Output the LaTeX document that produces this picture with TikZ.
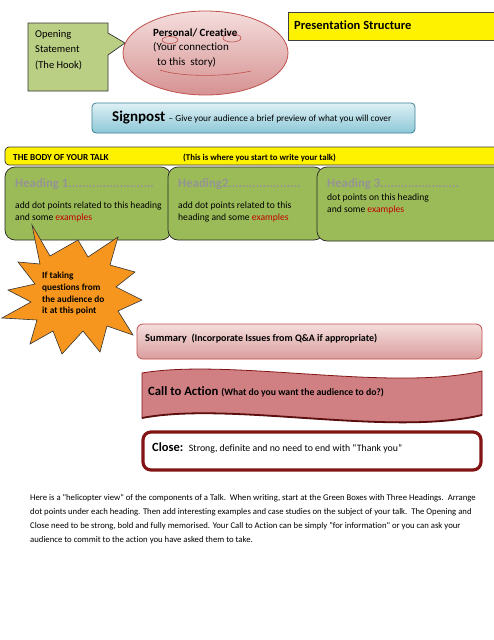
\documentclass[tikz,border=0pt]{standalone}
\usepackage{fontspec}
\setmainfont{Carlito}[Ligatures={TeXOff,NoCommon}]
\usetikzlibrary{shapes.geometric}
\definecolor{hookgreen}{RGB}{186,206,132}
\definecolor{headgreen}{RGB}{155,187,89}
\definecolor{pinklight}{RGB}{244,222,221}
\definecolor{pinkdark}{RGB}{214,146,146}
\definecolor{pinkborder}{RGB}{192,80,77}
\definecolor{bluelight}{RGB}{222,240,245}
\definecolor{bluedark}{RGB}{140,200,215}
\definecolor{blueborder}{RGB}{60,130,150}
\definecolor{orangestar}{RGB}{247,150,30}
\definecolor{wavefill}{RGB}{208,128,131}
\definecolor{darkred}{RGB}{130,20,20}
\definecolor{exred}{RGB}{192,0,0}
\definecolor{headgrey}{RGB}{148,148,148}
\newcommand{\fsz}[2]{\fontsize{#1}{#2}\selectfont}
\tikzset{
  txt/.style={inner sep=0pt, anchor=base west},
  greenbox/.style={draw=black!85, fill=headgreen, rounded corners=10pt, line width=0.7pt},
  ex/.style={text=exred}
}
\begin{document}
\begin{tikzpicture}[x=1pt,y=-1pt]
\useasboundingbox (0,0) rectangle (494,640);
\clip (0,0) rectangle (494,640);
\fill[white] (0,0) rectangle (494,640);

% Opening statement callout
\draw[fill=hookgreen, draw=black!80, line width=0.7pt]
  (28,23) -- (108,23) -- (108,33) -- (125,43) -- (108,55) -- (108,91) -- (28,91) -- cycle;
\node[txt] (op1) at (35,37) {\fsz{10.5}{12}Opening};
\node[txt] (op2) at (35,52.5) {\fsz{10.5}{12}Statement};
\node[txt] (op3) at (35,68) {\fsz{10.5}{12}(The Hook)};

% Personal/Creative ellipse
\draw[top color=pinklight, bottom color=pinkdark, draw=pinkborder, line width=0.8pt]
  (205.5,53) ellipse [x radius=82.5pt, y radius=42pt];
\draw[pinkborder, line width=0.6pt] (170,40) ellipse [x radius=8pt, y radius=3.5pt];
\draw[pinkborder, line width=0.6pt] (232,38) ellipse [x radius=9pt, y radius=4pt];
\draw[pinkborder, line width=0.6pt] (160,70) .. controls (180,77) and (225,77) .. (251,71);
\node[txt] (pc1) at (153,36) {\fsz{11}{13}\bfseries Personal/ Creative};
\node[txt] (pc2) at (153,50.5) {\fsz{11}{13}(Your connection};
\node[txt] (pc3) at (157,65) {\fsz{11}{13}to this\ \ story)};

% Presentation Structure
\draw[fill=yellow, draw=black!75, line width=0.7pt] (288,12) rectangle (500,40);
\node[txt] (ps) at (294,29.5) {\fsz{12.5}{14}\bfseries Presentation Structure};

% Signpost
\draw[top color=bluelight, bottom color=bluedark, draw=blueborder, line width=0.8pt, rounded corners=4pt]
  (92,103) rectangle (415,133);
\node[txt] (sp) at (112,121) {\fsz{15}{16}\bfseries Signpost\ \fsz{9.3}{11}\mdseries – Give your audience a brief preview of what you will cover};

% Body bar
\draw[fill=yellow, draw=black!80, line width=0.7pt, rounded corners=4pt] (5,147) rectangle (505,165);
\node[txt] (bd1) at (13,160) {\fsz{9.2}{10}\bfseries THE BODY OF YOUR TALK};
\node[txt] (bd2) at (183,160) {\fsz{8.8}{10}\bfseries (This is where you start to write your talk)};

% Green heading boxes
\draw[greenbox] (5,167) rectangle (171,240);
\draw[greenbox] (168,167) rectangle (324,240);
\draw[greenbox] (317,167) rectangle (510,241);
\node[txt, text=headgrey] (h1) at (15,187) {\fsz{12.8}{14}\bfseries Heading 1.........................};
\node[txt] (h1a) at (15,208) {\fsz{9.6}{11}add dot points related to this heading};
\node[txt] (h1b) at (15,220) {\fsz{9.6}{11}and some {\color{exred}examples}};
\node[txt, text=headgrey] (h2) at (178,187) {\fsz{12.8}{14}\bfseries Heading2.....................};
\node[txt] (h2a) at (178,208) {\fsz{9.6}{11}add dot points related to this};
\node[txt] (h2b) at (178,220) {\fsz{9.6}{11}heading and some {\color{exred}examples}};
\node[txt, text=headgrey] (h3) at (327,187) {\fsz{12.8}{14}\bfseries Heading 3.......................};
\node[txt] (h3a) at (327,200.5) {\fsz{9.6}{11}dot points on this heading};
\node[txt] (h3b) at (327,212) {\fsz{9.6}{11}and some {\color{exred}examples}};

% Starburst
\draw[fill=orangestar, draw=black!80, line width=0.6pt]
  (32,225) -- (50,256) -- (78,240) -- (88,257) -- (118,237) -- (110,265)
  -- (135,272) -- (116,287) -- (142,300) -- (118,311) -- (133,335) -- (107,326)
  -- (100,352) -- (83,331) -- (62,354) -- (53,331) -- (30,344) -- (37,320)
  -- (2,318) -- (31,302) -- (8,290) -- (35,284) -- (18,262) -- (40,264) -- cycle;
\node[txt] (st1) at (42,278) {\fsz{9.3}{10}\bfseries If taking};
\node[txt] (st2) at (42,290) {\fsz{9.3}{10}\bfseries questions from};
\node[txt] (st3) at (42,302) {\fsz{9.3}{10}\bfseries the audience do};
\node[txt] (st4) at (42,313.5) {\fsz{9.3}{10}\bfseries it at this point};

% Summary
\draw[top color=pinklight, bottom color=pinkdark!90, draw=pinkborder, line width=0.8pt, rounded corners=6pt]
  (137,324) rectangle (482,359);
\node[txt] (sm) at (145,341) {\fsz{10.5}{12}\bfseries Summary\ \ \fsz{10}{11}(Incorporate Issues from Q\&A if appropriate)};

% Call to Action wave
\draw[fill=wavefill, draw=darkred, line width=0.8pt]
  (142,373) .. controls (230,358) and (390,392) .. (482,371)
  -- (482,415) .. controls (390,437) and (230,401) .. (142,418) -- cycle;
\draw[darkred!70!black, line width=1.8pt] (482,415) .. controls (390,437) and (230,401) .. (142,418);
\node[txt] (ca) at (148,395) {\fsz{12.7}{14}\bfseries Call to Action\ \fsz{9.7}{11}(What do you want the audience to do?)};

% Close
\draw[fill=white, draw=darkred, line width=3.2pt, rounded corners=8pt] (143,432) rectangle (481,470);
\node[txt] (cl) at (152,451) {\fsz{12.5}{14}\bfseries Close:\ \ \fsz{9.8}{11}\mdseries Strong, definite and no need to end with “Thank you”};

% Paragraph
\node[txt] (p1) at (30,500) {\fsz{8.7}{10}Here is a "helicopter view" of the components of a Talk.\ \ When writing, start at the Green Boxes with Three Headings.\ \ Arrange};
\node[txt] (p2) at (30,514) {\fsz{8.7}{10}dot points under each heading. Then add interesting examples and case studies on the subject of your talk.\ \ The Opening and};
\node[txt] (p3) at (30,528) {\fsz{8.7}{10}Close need to be strong, bold and fully memorised. Your Call to Action can be simply "for information" or you can ask your};
\node[txt] (p4) at (30,542) {\fsz{8.7}{10}audience to commit to the action you have asked them to take.};
\end{tikzpicture}
\end{document}
